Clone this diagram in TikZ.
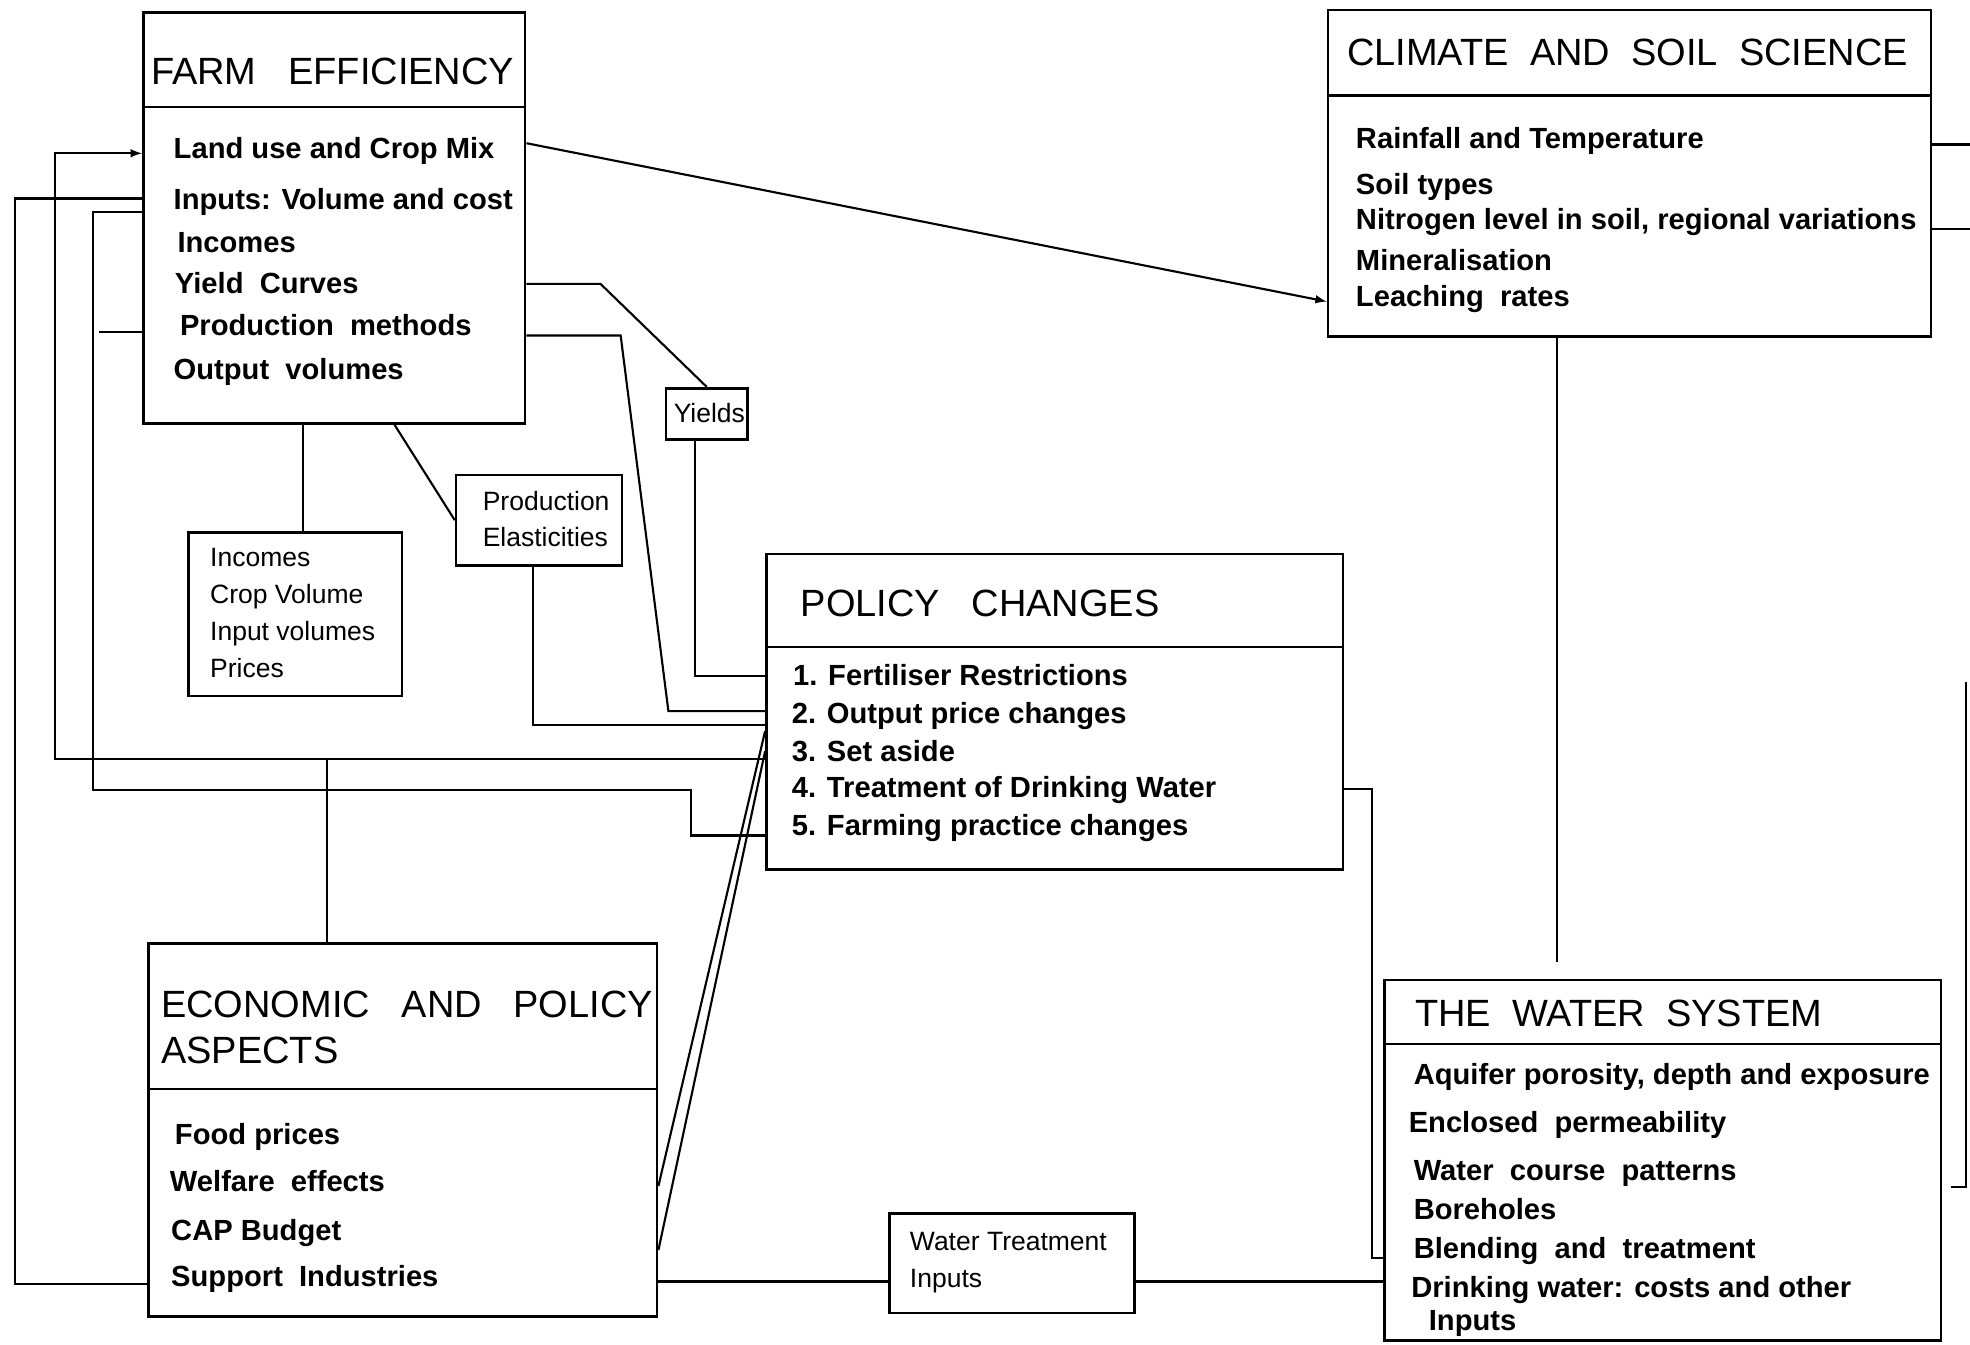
\documentclass[tikz,border=0pt]{standalone}
\usepackage{fontspec}
\setmainfont{Liberation Sans}
\usetikzlibrary{arrows,positioning,fit,calc}

\tikzset{
  panel/.style={draw, line width=1.5pt, inner sep=0pt, fit={#1}},
  rule/.style={line width=1.3pt},
  heading/.style={anchor=west, inner sep=0pt, font=\fontsize{21.5}{26}\selectfont},
  entry/.style={anchor=base west, inner sep=0pt, font=\fontsize{16.5}{19}\selectfont\bfseries},
  note/.style={anchor=west, inner sep=0pt, align=left, font=\fontsize{15}{20.5}\selectfont},
  link/.style={line width=1.2pt}
}

\begin{document}
\begin{tikzpicture}[x=0.025cm, y=-0.025cm]
\useasboundingbox (0,0) rectangle (1568,1070);
% boxes
\node[panel={(114,10) (418,337)}] (farm) {};
\node[panel={(1057,8) (1537,268)}] (climate) {};
\node[panel={(610,441) (1069,692)}] (policy) {};
\node[panel={(118,751) (523,1048)}] (econ) {};
\node[panel={(1102,780) (1545,1067)}] (water) {};
\node[panel={(150,424) (320,554)}] (sums) {};
\node[panel={(363,378) (495,450)}] (elast) {};
\node[panel={(530,309) (595,350)}] (yields) {};
\node[panel={(708,966) (903,1045)}] (treat) {};
% title rules
\draw[rule] (114,85) -- (418,85);
\draw[rule] (1057,76) -- (1537,76);
\draw[rule] (610,515) -- (1069,515);
\draw[rule] (118,867) -- (523,867);
\draw[rule] (1102,831) -- (1545,831);

% titles
\node[heading] (farmT) at (120,57) {FARM~~~EFFICIENCY};
\node[heading] (climT) at (1072,42) {CLIMATE~~AND~~SOIL~~SCIENCE};
\node[heading] (polT) at (637,480) {POLICY~~~CHANGES};
\node[heading, align=left] (econT) at (128,818) {ECONOMIC~~~AND~~~POLICY\\ASPECTS};
\node[heading] (waterT) at (1126,807) {THE~~WATER~~SYSTEM};

% farm items
\node[entry] (land) at (138,126) {Land use and Crop Mix};
\node[entry] (inputs) at (138,167) {Inputs: Volume and cost};
\node[entry] (incomes) at (141,201) {Incomes};
\node[entry] (curves) at (139,234) {Yield~~Curves};
\node[entry] (methods) at (143,267) {Production~~methods};
\node[entry] (outputs) at (138,302) {Output~~volumes};
% climate items
\node[entry] (rain) at (1079,118) {Rainfall and Temperature};
\node[entry] (soil) at (1079,155) {Soil types};
\node[entry] (nitro) at (1079,183) {Nitrogen level in soil, regional variations};
\node[entry] (mineral) at (1079,215) {Mineralisation};
\node[entry] (leach) at (1079,244) {Leaching~~rates};
% policy items
\node[entry] (pol1) at (631,546) {1. Fertiliser Restrictions};
\node[entry] (pol2) at (630,576) {2. Output price changes};
\node[entry] (pol3) at (630,606) {3. Set aside};
\node[entry] (pol4) at (630,635) {4. Treatment of Drinking Water};
\node[entry] (pol5) at (630,665) {5. Farming practice changes};
% economic items
\node[entry] (food) at (139,911) {Food prices};
\node[entry] (welfare) at (135,948) {Welfare~~effects};
\node[entry] (cap) at (136,987) {CAP Budget};
\node[entry] (support) at (136,1024) {Support~~Industries};
% water items
\node[entry] (aquifer) at (1125,863) {Aquifer porosity, depth and exposure};
\node[entry] (perm) at (1121,901) {Enclosed~~permeability};
\node[entry] (course) at (1125,940) {Water~~course~~patterns};
\node[entry] (bore) at (1125,971) {Boreholes};
\node[entry] (blend) at (1125,1002) {Blending~~and~~treatment};
\node[entry] (drink) at (1123,1033) {Drinking water: costs and other};
\node[entry] (drinkb) at (1137,1059) {Inputs};
% small boxes
\node[note, font=\fontsize{15}{21}\selectfont] (sumsT) at (167,488) {Incomes\\Crop Volume\\Input volumes\\Prices};
\node[note] (elastT) at (384,413) {Production\\Elasticities};
\node[note] (yieldsT) at (536,329) {Yields};
\node[note] (treatT) at (724,1005) {Water~Treatment\\Inputs};

% corners
\coordinate (outerTop) at (12,158);
\coordinate (outerBot) at (12,1022);
\coordinate (midTop) at (44,122);
\coordinate (midBot) at (44,604);
\coordinate (inTop) at (74,169);
\coordinate (inBot) at (74,629);
\coordinate (inStep) at (550,629);
\coordinate (inEnd) at (550,665);
\coordinate (stub) at (79,264);
\coordinate (tee) at (260,604);
\coordinate (landOut) at (0,114);
\coordinate (leachIn) at (0,240);
\coordinate (ybend) at (478,226);
\coordinate (ydown) at (553,538);
\coordinate (mbend) at (494,267);
\coordinate (mfoot) at (532,566);
\coordinate (sx) at (241,0);
\coordinate (dtop) at (314,0);
\coordinate (efoot) at (424,577);
\coordinate (dblA) at (524,944);
\coordinate (dblB) at (524,995);
\coordinate (dblAt) at (610,582);
\coordinate (dblBt) at (610,598);
\coordinate (pw) at (1092,628);
\coordinate (pwb) at (1092,1001);
\coordinate (tline) at (0,1020);
\coordinate (cx) at (1239,766);
\coordinate (r1) at (1568,115);
\coordinate (r2) at (1568,182);
\coordinate (e1) at (1565,543);
\coordinate (e2) at (1565,945);
\coordinate (e3) at (1553,945);

% edges
\draw[link] (farm.west |- outerTop) -- (outerTop) -- (outerBot) -- (econ.west |- outerBot);
\draw[link,-latex] (policy.west |- midBot) -- (midBot) -- (midTop) -- (farm.west |- midTop);
\draw[link] (farm.west |- inTop) -- (inTop) -- (inBot) -- (inStep) -- (inEnd) -- (policy.west |- inEnd);
\draw[link] (stub) -- (farm.west |- stub);
\draw[link] (tee) -- (tee |- econ.north);
\draw[link,-latex] (farm.east |- landOut) -- (climate.west |- leachIn);
\draw[link] (farm.east |- ybend) -- (ybend) -- (yields.north);
\draw[link] (ydown |- yields.south) -- (ydown) -- (policy.west |- ydown);
\draw[link] (farm.east |- mbend) -- (mbend) -- (mfoot) -- (policy.west |- mfoot);
\draw[link] (farm.south -| sx) -- (sums.north -| sx);
\draw[link] (farm.south -| dtop) -- (elast.west);
\draw[link] (elast.south -| efoot) -- (efoot) -- (policy.west |- efoot);
\draw[link] (econ.east |- dblA) -- (policy.west |- dblAt);
\draw[link] (econ.east |- dblB) -- (policy.west |- dblBt);
\draw[link] (policy.east |- pw) -- (pw) -- (pwb) -- (water.west |- pwb);
\draw[link] (econ.east |- tline) -- (treat.west |- tline);
\draw[link] (treat.east |- tline) -- (water.west |- tline);
\draw[link] (climate.south -| cx) -- (cx);
\draw[link] (climate.east |- r1) -- (r1);
\draw[link] (climate.east |- r2) -- (r2);
\draw[link] (e1) -- (e2) -- (e3);
\end{tikzpicture}
\end{document}
